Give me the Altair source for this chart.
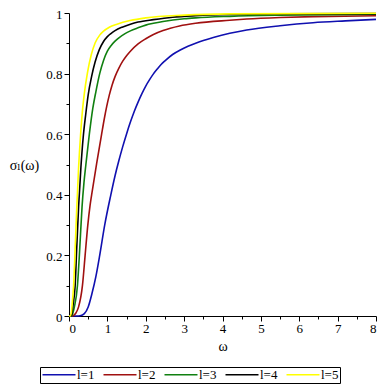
import altair as alt
import pandas as pd

series = ["l=1", "l=2", "l=3", "l=4", "l=5"]
colors = ["#1010b0", "#a01010", "#108010", "#000000", "#ffff00"]

w1 = [0, 0.2, 0.29, 0.4, 0.5, 0.6, 0.7, 0.8, 0.93, 1.09, 1.2, 1.3, 1.4, 1.5, 1.6, 1.7, 1.8, 1.9, 2.0, 2.1, 2.2, 2.3, 2.4, 2.5, 2.7, 2.9, 3.1, 3.3, 3.5, 3.76, 4.19, 4.63, 5.5, 6.36, 7.2, 8.0]
s1 = [0, 0, 0.001, 0.008, 0.03, 0.075, 0.13, 0.2, 0.3, 0.4, 0.463, 0.513, 0.559, 0.601, 0.64, 0.675, 0.706, 0.734, 0.759, 0.78, 0.799, 0.815, 0.83, 0.842, 0.863, 0.878, 0.89, 0.9, 0.909, 0.919, 0.933, 0.944, 0.958, 0.968, 0.974, 0.979]

w2 = [0, 0.08, 0.12, 0.18, 0.25, 0.35, 0.42, 0.49, 0.55, 0.59, 0.72, 0.85, 0.92, 0.98, 1.05, 1.12, 1.2, 1.3, 1.4, 1.5, 1.6, 1.8, 2.0, 2.2, 2.45, 2.88, 3.3, 4.19, 4.63, 5.5, 6.36, 8.0]
s2 = [0, 0, 0.002, 0.01, 0.03, 0.1, 0.2, 0.3, 0.366, 0.4, 0.503, 0.6, 0.651, 0.69, 0.729, 0.761, 0.79, 0.818, 0.841, 0.859, 0.874, 0.898, 0.915, 0.929, 0.942, 0.957, 0.966, 0.976, 0.98, 0.985, 0.988, 0.991]

w3 = [0, 0.05, 0.08, 0.14, 0.22, 0.27, 0.3, 0.34, 0.39, 0.44, 0.53, 0.62, 0.7, 0.8, 0.9, 1.0, 1.1, 1.2, 1.3, 1.45, 1.6, 1.8, 2.0, 2.2, 2.45, 3.0, 3.3, 4.19, 5.5, 8.0]
s3 = [0, 0, 0.003, 0.03, 0.1, 0.2, 0.27, 0.36, 0.44, 0.5, 0.6, 0.685, 0.74, 0.8, 0.8435, 0.874, 0.893, 0.907, 0.918, 0.931, 0.941, 0.951, 0.96, 0.966, 0.972, 0.981, 0.984, 0.989, 0.993, 0.996]

w4 = [0, 0.04, 0.07, 0.11, 0.16, 0.2, 0.25, 0.31, 0.37, 0.44, 0.5, 0.59, 0.68, 0.79, 0.9, 1.0, 1.1, 1.2, 1.4, 1.6, 1.8, 2.2, 2.7, 3.3, 4.19, 5.5, 8.0]
s4 = [0, 0, 0.005, 0.04, 0.1, 0.22, 0.36, 0.49, 0.59, 0.67, 0.73, 0.791, 0.838, 0.879, 0.906, 0.922, 0.933, 0.942, 0.954, 0.963, 0.97, 0.978, 0.986, 0.991, 0.995, 0.997, 0.998]

w5 = [0, 0.03, 0.06, 0.09, 0.12, 0.16, 0.2, 0.25, 0.3, 0.36, 0.4, 0.48, 0.58, 0.68, 0.8, 0.9, 1.05, 1.25, 1.59, 2.0, 3.0, 4.19, 8.0]
s5 = [0, 0, 0.01, 0.05, 0.1, 0.22, 0.35, 0.49, 0.595, 0.69, 0.735, 0.802, 0.862, 0.901, 0.927, 0.94, 0.953, 0.963, 0.975, 0.984, 0.993, 0.997, 0.999]

x_ticks = [0, 0.5, 1, 1.5, 2, 2.5, 3, 3.5, 4, 4.5, 5, 5.5, 6, 6.5, 7, 7.5, 8]
y_ticks = [0, 0.1, 0.2, 0.3, 0.4, 0.5, 0.6, 0.7, 0.8, 0.9, 1]

rows = []
for name, ws, ss in zip(series, [w1, w2, w3, w4, w5], [s1, s2, s3, s4, s5]):
    for w, s in zip(ws, ss):
        rows.append({"omega": w, "sigma": s, "l": name})
df = pd.DataFrame(rows)

FONT = "Liberation Serif, Times New Roman, DejaVu Serif, serif"

chart = alt.Chart(df).mark_line(strokeWidth=1.6, interpolate="monotone").encode(
    x=alt.X("omega:Q",
            scale=alt.Scale(domain=[0, 8], nice=False, zero=False),
            axis=alt.Axis(values=x_ticks, title="ω",
                          labelExpr="datum.value % 1 == 0 ? datum.label : ''",
                          format="~g",
                          tickSize={"condition": {"test": "datum.value % 1 != 0", "value": 3}, "value": 5},
                          labelPadding=1, labelOverlap=False,
                          titleY=34, titleBaseline="alphabetic", titleFontSize=14,
                          titleFontWeight="normal")),
    y=alt.Y("sigma:Q",
            scale=alt.Scale(domain=[0, 1], nice=False),
            axis=alt.Axis(values=y_ticks, title="σₗ(ω)",
                          labelExpr="round(datum.value*10) % 2 == 0 ? datum.label : ''",
                          format=".1~f",
                          tickSize={"condition": {"test": "round(datum.value*10) % 2 != 0", "value": 3}, "value": 5},
                          labelPadding=2, labelOverlap=False, labelOffset=1,
                          titleAngle=0, titleAlign="center", titleBaseline="middle",
                          titleX=-45, titleY=152, titleFontSize=14, titleFontWeight="normal")),
    color=alt.Color("l:N",
                    scale=alt.Scale(domain=series, range=colors),
                    legend=alt.Legend(orient="none", legendX=-29, legendY=354,
                                      direction="horizontal", title=None,
                                      symbolType="M-1,0H5.6", symbolSize=100,
                                      symbolStrokeWidth=1.6, labelOffset=23,
                                      columnPadding=5, padding=1,
                                      strokeColor="black", fillColor="white",
                                      labelFont=FONT, labelFontSize=13)),
).properties(
    width=307, height=303,
    autosize=alt.AutoSizeParams(type="none"),
    padding={"left": 61, "top": 5, "right": 2, "bottom": 70},
).configure_view(
    stroke=None
).configure_axis(
    grid=False, domainColor="black", tickColor="black", labelColor="black",
    titleColor="black", labelFont=FONT, titleFont=FONT, labelFontSize=13,
    domainWidth=1, tickWidth=1
)

chart.save("out.html", embed_options={"renderer": "svg", "actions": False})
